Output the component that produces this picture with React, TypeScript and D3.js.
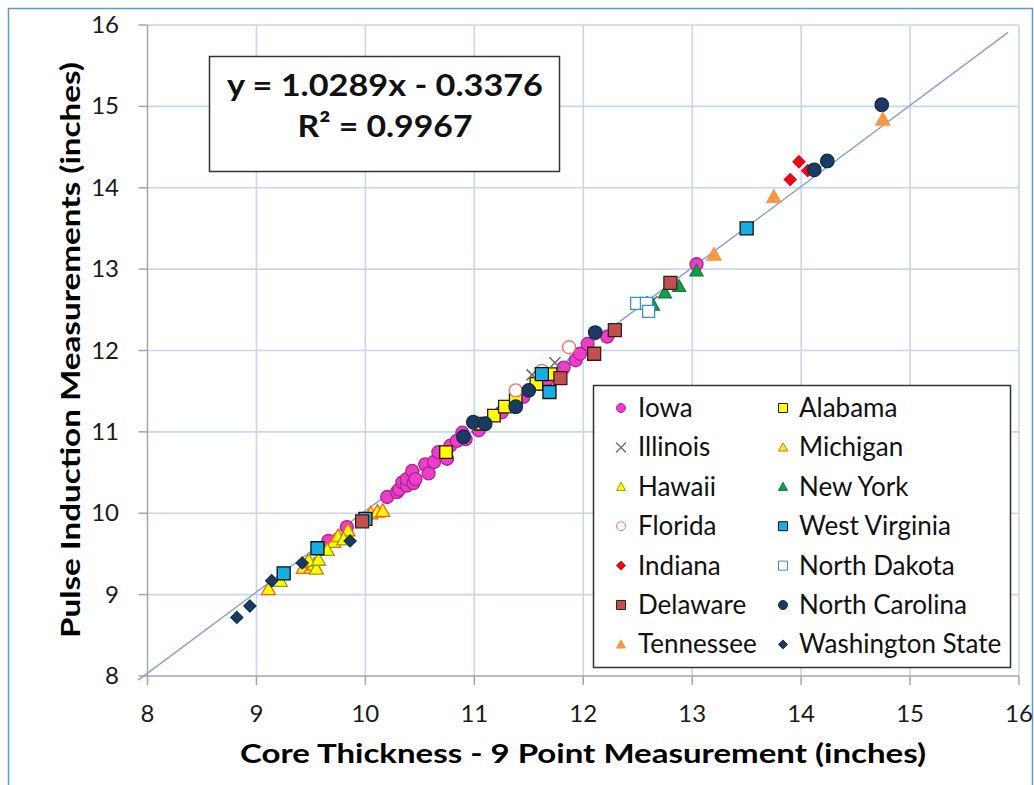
import { useEffect, useRef } from 'react';
import * as d3 from 'd3';

type Pt = [number, number];

// core thickness (x) vs pulse induction (y)
const iowa: Pt[] = [
  [9.66, 9.66], [9.83, 9.83], [10.2, 10.2], [10.29, 10.26], [10.31, 10.29], [10.34, 10.38],
  [10.38, 10.34], [10.38, 10.42], [10.43, 10.52], [10.44, 10.37], [10.46, 10.42], [10.55, 10.6],
  [10.58, 10.49], [10.63, 10.63], [10.67, 10.75], [10.75, 10.67], [10.78, 10.83], [10.84, 10.89],
  [10.89, 10.99], [10.92, 10.91], [11.04, 11.02], [11.25, 11.24], [11.45, 11.43], [11.6, 11.59],
  [11.66, 11.63], [11.82, 11.79], [11.93, 11.88], [11.97, 11.96], [12.04, 12.08], [12.22, 12.17],
  [13.04, 13.06],
];
const alabama: Pt[] = [
  [10.74, 10.75], [11.06, 11.1], [11.18, 11.2], [11.28, 11.31], [11.38, 11.39], [11.57, 11.59], [11.7, 11.71],
];
const illinois: Pt[] = [[11.53, 11.7], [11.74, 11.85], [12.63, 12.6]];
const michigan: Pt[] = [
  [9.11, 9.07], [9.43, 9.33], [9.47, 9.4], [9.5, 9.33], [9.53, 9.37], [9.71, 9.65],
  [9.75, 9.72], [9.84, 9.79], [10.05, 10.0], [10.11, 10.02], [10.16, 10.03],
];
const hawaii: Pt[] = [[9.22, 9.17], [9.48, 9.42], [9.55, 9.32], [9.57, 9.43], [9.65, 9.55], [9.8, 9.68]];
const newYork: Pt[] = [[12.64, 12.56], [12.75, 12.71], [12.88, 12.79], [13.04, 12.98]];
const florida: Pt[] = [[11.38, 11.51], [11.62, 11.75], [11.87, 12.04]];
const westVirginia: Pt[] = [[9.25, 9.26], [9.56, 9.57], [10.0, 9.93], [11.62, 11.71], [11.69, 11.49], [13.5, 13.5]];
const indiana: Pt[] = [[13.9, 14.1], [13.98, 14.32], [14.06, 14.21]];
const northDakota: Pt[] = [[12.49, 12.58], [12.58, 12.58], [12.6, 12.48]];
const delaware: Pt[] = [[9.97, 9.9], [11.79, 11.66], [12.1, 11.96], [12.29, 12.25], [12.8, 12.83]];
const northCarolina: Pt[] = [
  [10.9, 10.94], [10.99, 11.12], [11.1, 11.1], [11.38, 11.31], [11.5, 11.51], [12.11, 12.22],
  [14.12, 14.22], [14.24, 14.33], [14.74, 15.02],
];
const tennessee: Pt[] = [[13.2, 13.18], [13.75, 13.89], [14.75, 14.84]];
const washington: Pt[] = [[8.82, 8.72], [8.94, 8.86], [9.14, 9.17], [9.42, 9.39], [9.86, 9.66]];

const xTicks = [8, 9, 10, 11, 12, 13, 14, 15, 16];
const yTicks = [8, 9, 10, 11, 12, 13, 14, 15, 16];
const trendLine: Pt[] = [[7.915, 7.95], [15.9, 15.91]];
const equationLines = ['y = 1.0289x - 0.3376', 'R² = 0.9967'];

interface Series {
  name: string;
  data: Pt[];
  shape: string;
  size: number;
  fill: string;
  stroke: string;
}

// drawing order = legend order (row by row)
const series: Series[] = [
  { name: 'Iowa', data: iowa, shape: 'circle', size: 13, fill: '#f03cc8', stroke: '#a02c8e' },
  { name: 'Alabama', data: alabama, shape: 'square', size: 12.5, fill: '#ffff00', stroke: '#1a1a1a' },
  { name: 'Illinois', data: illinois, shape: 'x', size: 11, fill: 'none', stroke: '#6e6e6e' },
  { name: 'Michigan', data: michigan, shape: 'triangle', size: 14, fill: '#ffff00', stroke: '#ff5b1a' },
  { name: 'Hawaii', data: hawaii, shape: 'triangle', size: 14, fill: '#ffff00', stroke: '#9a9a10' },
  { name: 'New York', data: newYork, shape: 'triangle', size: 13, fill: '#10a04c', stroke: '#0d7e3c' },
  { name: 'Florida', data: florida, shape: 'circle', size: 13, fill: '#ffffff', stroke: '#ff6a6a' },
  { name: 'West Virginia', data: westVirginia, shape: 'square', size: 13, fill: '#17aee6', stroke: '#111111' },
  { name: 'Indiana', data: indiana, shape: 'diamond', size: 12, fill: '#ff0000', stroke: '#c8103c' },
  { name: 'North Dakota', data: northDakota, shape: 'square', size: 12, fill: '#ffffff', stroke: '#3b8fd8' },
  { name: 'Delaware', data: delaware, shape: 'square', size: 13, fill: '#c0504d', stroke: '#3b1c1c' },
  { name: 'North Carolina', data: northCarolina, shape: 'circle', size: 13.5, fill: '#1b3a63', stroke: '#142c4d' },
  { name: 'Tennessee', data: tennessee, shape: 'triangle', size: 14, fill: '#f79646', stroke: '#f79646' },
  { name: 'Washington State', data: washington, shape: 'diamond', size: 12, fill: '#1b3a63', stroke: '#152f52' },
];

function markerPath(shape: string, s: number) {
  const h = s / 2;
  switch (shape) {
    case 'square': return `M${-h},${-h}H${h}V${h}H${-h}Z`;
    case 'triangle': return `M0,${-h}L${h},${h * 0.8}L${-h},${h * 0.8}Z`;
    case 'diamond': return `M0,${-h}L${h},0L0,${h}L${-h},0Z`;
    case 'x': return `M${-h},${-h}L${h},${h}M${h},${-h}L${-h},${h}`;
    default: return `M${h},0A${h},${h} 0 1,1 ${-h},0A${h},${h} 0 1,1 ${h},0Z`;
  }
}

const W = 1034;
const H = 785;
const FONT = 'Lato, "Open Sans", sans-serif';

export default function App() {
  const svgRef = useRef<SVGSVGElement>(null);

  useEffect(() => {
    if (!svgRef.current) return;
    const svg = d3.select(svgRef.current);
    svg.selectAll('*').remove();

    const x = d3.scaleLinear([8, 16], [147.5, 1019]);
    const y = d3.scaleLinear([8, 16], [676, 25]);

    svg.append('rect').attr('width', W).attr('height', H).attr('fill', '#fff');
    // outer chart frame
    svg.append('rect').attr('x', 8.5).attr('y', 8.5).attr('width', 1024).attr('height', 820)
      .attr('fill', 'none').attr('stroke', '#5b9bd5').attr('stroke-width', 1.5);

    // Grid
    const grid = svg.append('g').attr('stroke', '#c8d6ef').attr('stroke-width', 1.6);
    grid.selectAll('.gx').data(xTicks.slice(1)).join('line')
      .attr('x1', d => x(d)).attr('x2', d => x(d)).attr('y1', y(16)).attr('y2', y(8));
    grid.selectAll('.gy').data(yTicks.slice(1)).join('line')
      .attr('x1', x(8)).attr('x2', x(16)).attr('y1', d => y(d)).attr('y2', d => y(d));

    // Axes
    const axisG = svg.append('g').attr('stroke', '#a6a6a6').attr('stroke-width', 1.5);
    axisG.append('line').attr('x1', x(8)).attr('x2', x(8)).attr('y1', y(16)).attr('y2', y(8));
    axisG.append('line').attr('x1', x(8)).attr('x2', x(16)).attr('y1', y(8)).attr('y2', y(8));
    axisG.selectAll('.tx').data(xTicks).join('line')
      .attr('x1', d => x(d)).attr('x2', d => x(d)).attr('y1', y(8)).attr('y2', y(8) + 9);
    axisG.selectAll('.ty').data(yTicks).join('line')
      .attr('x1', x(8) - 9).attr('x2', x(8)).attr('y1', d => y(d)).attr('y2', d => y(d));

    svg.append('g').selectAll('text').data(xTicks).join('text')
      .attr('x', d => x(d)).attr('y', 722).attr('text-anchor', 'middle')
      .attr('font-family', FONT).attr('font-size', 24).attr('fill', '#1a1a1a').text(d => d);
    svg.append('g').selectAll('text').data(yTicks).join('text')
      .attr('x', 119).attr('y', d => y(d) + 8).attr('text-anchor', 'end')
      .attr('font-family', FONT).attr('font-size', 24).attr('fill', '#1a1a1a').text(d => d);

    // Axis titles
    svg.append('text').attr('x', 583).attr('y', 763).attr('text-anchor', 'middle')
      .attr('font-family', FONT).attr('font-weight', 'bold').attr('font-size', 27)
      .attr('textLength', 686).attr('lengthAdjust', 'spacingAndGlyphs')
      .text('Core Thickness - 9 Point Measurement (inches)');
    svg.append('text').attr('transform', 'translate(80,350) rotate(-90)').attr('text-anchor', 'middle')
      .attr('font-family', FONT).attr('font-weight', 'bold').attr('font-size', 27)
      .attr('textLength', 576).attr('lengthAdjust', 'spacingAndGlyphs')
      .text('Pulse Induction Measurements (inches)');

    // Trend line
    svg.append('path').datum(trendLine)
      .attr('d', d3.line<Pt>().x(d => x(d[0])).y(d => y(d[1])))
      .attr('fill', 'none').attr('stroke', '#86a3d2').attr('stroke-width', 1.5);

    // Points
    series.forEach(s => {
      svg.append('g').selectAll('path').data(s.data).join('path')
        .attr('transform', d => `translate(${x(d[0])},${y(d[1])})`)
        .attr('d', markerPath(s.shape, s.size))
        .attr('fill', s.fill).attr('stroke', s.stroke)
        .attr('stroke-width', s.shape === 'x' ? 1.6 : 1.3);
    });

    // Equation box
    svg.append('rect').attr('x', 209.5).attr('y', 56.5).attr('width', 350).attr('height', 115)
      .attr('fill', '#fff').attr('stroke', '#333').attr('stroke-width', 1.5);
    const eqWidths = [316, 175];
    equationLines.forEach((t, i) => {
      svg.append('text').attr('x', 385).attr('y', i === 0 ? 96 : 137).attr('text-anchor', 'middle')
        .attr('font-family', FONT).attr('font-weight', 'bold').attr('font-size', 31)
        .attr('textLength', eqWidths[i]).attr('lengthAdjust', 'spacingAndGlyphs')
        .attr('fill', '#111').text(t);
    });

    // Legend
    const lg = svg.append('g');
    lg.append('rect').attr('x', 593.5).attr('y', 385.5).attr('width', 417).attr('height', 282)
      .attr('fill', '#fff').attr('stroke', '#333').attr('stroke-width', 1.5);
    series.forEach((s, i) => {
      const col = i % 2;
      const row = Math.floor(i / 2);
      const cy = 408 + row * 39.4;
      const mx = col === 0 ? 621 : 783;
      const legendSize = s.shape === 'x' ? 10 : 9;
      lg.append('path').attr('transform', `translate(${mx},${cy})`)
        .attr('d', markerPath(s.shape, legendSize))
        .attr('fill', s.fill).attr('stroke', s.stroke).attr('stroke-width', s.shape === 'x' ? 1.4 : 1);
      lg.append('text').attr('x', col === 0 ? 638 : 799).attr('y', cy + 9)
        .attr('font-family', FONT).attr('font-size', 26).attr('fill', '#111').text(s.name);
    });
  }, []);

  return (
    <svg ref={svgRef} width={W} height={H}
      style={{ position: 'absolute', left: 0, top: 0, display: 'block' }} />
  );
}
